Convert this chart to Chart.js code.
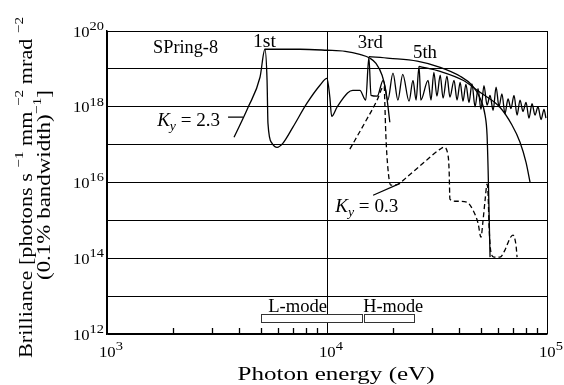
<!DOCTYPE html>
<html>
<head>
<meta charset="utf-8">
<script src="https://cdn.jsdelivr.net/npm/chart.js@4.4.1/dist/chart.umd.min.js"></script>
<style>
html, body { margin: 0; padding: 0; background: #fff; }
#wrap { width: 564px; height: 385px; }
</style>
</head>
<body>
<div id="wrap"><canvas id="brilliance" width="564" height="385"></canvas></div>
<script>
// K_y = 2.3 spectrum (solid)
const k23Energy = [
    3780, 4380, 4960, 5220, 5340, 5390, 5620, 5930, 6310, 7000,
    8110, 9290, 10000, 10300, 10500, 11100, 12400, 13100, 14100, 15000,
    15500, 15850, 16900, 18000, 18900, 19950, 21000, 22100, 23600, 24600,
    25400, 26200, 26700, 28800, 29700, 30600, 31600, 32700, 33700, 35100,
    36200, 37800, 39000, 40300, 41500, 42800, 44200, 45600, 47100, 48600,
    50100, 51700, 53400, 55100, 56900, 58700, 60500, 62400, 64400, 66500,
    68600, 70800, 73100, 75400, 77800, 80300, 82800, 85500, 88200, 91000,
    94000, 96900, 98900,
]
const k23Brilliance = [
    1.57e17, 9.7e17, 6.0e18, 3.3e19, 5.0e18, 3.7e17, 1.1e17, 8.5e16, 1.1e17, 2.9e17,
    1.24e18, 3.7e18, 5.6e18, 1.8e18, 5.6e17, 9.7e17, 2.3e18, 2.7e18, 2.7e18, 1.5e18,
    2.0e19, 2.0e18, 1.9e18, 5.0e18, 1.5e18, 7.7e18, 1.5e18, 7.2e18, 1.4e18, 5.0e18,
    1.5e18, 1.17e19, 1.5e18, 5.0e18, 1.5e18, 8.1e18, 1.9e18, 6.8e18, 1.7e18, 6.4e18,
    1.8e18, 5.0e18, 1.5e18, 4.4e18, 1.4e18, 3.9e18, 1.3e18, 4.0e18, 1.0e18, 3.0e18,
    8.5e17, 3.6e18, 1.1e18, 2.0e18, 8.0e17, 3.3e18, 1.0e18, 2.2e18, 6.5e17, 1.6e18,
    9.0e17, 2.0e18, 6.0e17, 1.5e18, 7.5e17, 1.3e18, 5.0e17, 1.2e18, 6.0e17, 1.0e18,
    4.6e17, 8.5e17, 5.0e17,
]

// tuning curves of the harmonics (solid)
const firstEnergy = [5220, 7540, 10000, 12100, 14100, 15700, 16700, 17800, 18500, 18900, 19300]
const firstBrilliance = [3.3e19, 3.3e19, 3.1e19, 2.9e19, 2.4e19, 1.9e19, 1.4e19, 6.8e18, 2.7e18, 1.1e18, 3.9e17]
const thirdEnergy = [15500, 19300, 25700, 32700, 40300, 45600, 49600, 52300, 53400, 54000, 54500, 55100]
const thirdBrilliance = [2.1e19, 1.9e19, 1.6e19, 1.1e19, 6.4e18, 3.7e18, 1.7e18, 6.0e17, 1.8e17, 2.1e16, 1.86e15, 1.07e14]
const fifthEnergy = [26200, 32700, 41500, 49600, 61100, 69300, 75400, 80300, 83800]
const fifthBrilliance = [1.17e19, 8.6e18, 5.0e18, 2.4e18, 9.7e17, 3.3e17, 1.16e17, 3.4e16, 1.0e16]

// K_y = 0.3 spectrum (dashed)
const k03Energy = [
    12700, 14900, 16900, 17800, 18200, 18300, 18500, 18900, 19500, 21000,
    23100, 27300, 32700, 34000, 35500, 35900, 36200, 39000, 43300, 46100,
    48600, 50100, 51200, 52300, 53400, 54000, 54500, 55600, 57400, 61100,
    64400, 67900, 70000, 72300, 73100,
]
const k03Brilliance = [
    7.6e16, 3.9e17, 1.5e18, 3.1e18, 3.5e18, 1.5e18, 2.0e17, 2.5e16, 8.5e15, 9.0e15,
    1.4e16, 3.2e16, 7.6e16, 8.5e16, 5.2e16, 2.1e16, 3.6e15, 3.2e15, 3.0e15, 1.86e15,
    8.4e14, 3.6e14, 1.0e15, 3.4e15, 9.0e15, 4.6e15, 7.5e14, 1.45e14, 1.07e14, 1.07e14,
    1.64e14, 3.4e14, 4.1e14, 2.2e14, 1.07e14,
]

// operating modes along the energy axis
const modeNames = ['L-mode', 'H-mode']
const modeStart = [5000, 14700]
const modeEnd = [14400, 24800]

// axes
const xMajorTicks = [1e3, 1e4, 1e5]
const xTickExponents = ['3', '4', '5']
const xMinorTicks = [2e3, 3e3, 4e3, 5e3, 6e3, 7e3, 8e3, 9e3, 2e4, 3e4, 4e4, 5e4, 6e4, 7e4, 8e4, 9e4]
const yGridTicks = [1e12, 1e13, 1e14, 1e15, 1e16, 1e17, 1e18, 1e19, 1e20]
const yLabelTicks = [1e12, 1e14, 1e16, 1e18, 1e20]
const yTickExponents = ['12', '14', '16', '18', '20']

const serif = '"Liberation Serif", "Times New Roman", serif'

function toPoints(xs, ys) {
    return xs.map((x, i) => ({x, y: ys[i]}))
}

function partFont(kind, size, supScale) {
    const small = kind === 'sup' || kind === 'sub' || kind === 'isub'
    const italic = kind === 'i' || kind === 'isub'
    const px = small ? Math.round(size * supScale) : size
    return `${italic ? 'italic ' : ''}${px}px ${serif}`
}

function partShift(kind, size) {
    if (kind === 'sup') return -size * 0.45
    if (kind === 'sub' || kind === 'isub') return size * 0.22
    return 0
}

// draws a run of text pieces, stretched to the given width
function drawRich(ctx, parts, x, y, size, width, align, supScale = 0.7) {
    ctx.save()
    let natural = 0
    parts.forEach(([t, k]) => {
        ctx.font = partFont(k, size, supScale)
        natural += ctx.measureText(t).width
    })
    const sx = width ? width / natural : 1
    const w = natural * sx
    const left = align === 'center' ? x - w / 2 : align === 'right' ? x - w : x
    ctx.translate(left, y)
    ctx.scale(sx, 1)
    ctx.fillStyle = '#000'
    ctx.textAlign = 'left'
    ctx.textBaseline = 'alphabetic'
    let cx = 0
    parts.forEach(([t, k]) => {
        ctx.font = partFont(k, size, supScale)
        ctx.fillText(t, cx, partShift(k, size))
        cx += ctx.measureText(t).width
    })
    ctx.restore()
}

const annotations = {
    id: 'annotations',
    afterDraw(chart) {
        const ctx = chart.ctx
        const xs = chart.scales.x
        const ys = chart.scales.y
        const area = chart.chartArea
        const px = v => xs.getPixelForValue(v)
        const py = v => ys.getPixelForValue(v)

        ctx.save()
        ctx.strokeStyle = '#000'

        // inward minor ticks on the energy axis
        ctx.lineWidth = 1.3
        xMinorTicks.forEach(v => {
            const x = Math.round(px(v)) + 0.5
            ctx.beginPath()
            ctx.moveTo(x, area.bottom)
            ctx.lineTo(x, area.bottom - 6)
            ctx.stroke()
        })

        // leaders from the K labels
        ctx.lineWidth = 1.2
        ctx.beginPath()
        ctx.moveTo(px(3550), py(5.3e17))
        ctx.lineTo(px(4150), py(5.3e17))
        ctx.moveTo(px(16200), py(4.6e15))
        ctx.lineTo(px(21500), py(9.5e15))
        ctx.stroke()

        // mode bars
        ctx.lineWidth = 1
        ctx.strokeStyle = '#333'
        modeNames.forEach((name, i) => {
            const x0 = Math.round(px(modeStart[i])) + 0.5
            const x1 = Math.round(px(modeEnd[i])) + 0.5
            const y0 = Math.round(py(3.35e12)) + 0.5
            const y1 = Math.round(py(2.06e12)) + 0.5
            ctx.fillStyle = '#fff'
            ctx.fillRect(x0, y0, x1 - x0, y1 - y0)
            ctx.strokeRect(x0, y0, x1 - x0, y1 - y0)
        })
        ctx.restore()

        drawRich(ctx, [['L-mode', '']], px(5400), py(3.8e12), 18, 59, 'left')
        drawRich(ctx, [['H-mode', '']], px(14600), py(3.8e12), 18, 60, 'left')

        // labels inside the plot
        drawRich(ctx, [['SPring-8', '']], px(1620), py(2.6e19), 18, 65, 'left')
        drawRich(ctx, [['1st', '']], px(4610), py(3.7e19), 18, 23, 'left')
        drawRich(ctx, [['3rd', '']], px(13800), py(3.5e19), 18, 25, 'left')
        drawRich(ctx, [['5th', '']], px(24600), py(1.9e19), 18, 24, 'left')
        drawRich(ctx, [['K', 'i'], ['y', 'isub'], [' = 2.3', '']], px(1690), py(3.05e17), 18, 63, 'left')
        drawRich(ctx, [['K', 'i'], ['y', 'isub'], [' = 0.3', '']], px(10900), py(1.64e15), 18, 63, 'left')

        // tick labels
        yLabelTicks.forEach((v, i) => {
            drawRich(ctx, [['10', ''], [yTickExponents[i], 'sup']], area.left - 3, py(v) + 5.5, 15, 31, 'right', 0.85)
        })
        xMajorTicks.forEach((v, i) => {
            ctx.font = `15px ${serif}`
            const half = ctx.measureText('10').width * 1.07 / 2
            drawRich(ctx, [['10', ''], [xTickExponents[i], 'sup']], px(v) - half, area.bottom + 23, 15, 24, 'left', 0.85)
        })

        // axis titles
        drawRich(ctx, [['Photon energy (eV)', '']], (area.left + area.right) / 2 + 9, 380, 19, 197, 'center')

        ctx.save()
        ctx.translate(32, 187.5)
        ctx.rotate(-Math.PI / 2)
        drawRich(ctx, [
            ['Brilliance [photons s ', ''], ['\u22121', 'sup'],
            [' mm ', ''], ['\u22122', 'sup'],
            [' mrad ', ''], ['\u22122', 'sup'],
        ], 0, 0, 19, 341, 'center')
        ctx.restore()

        ctx.save()
        ctx.translate(50, 185)
        ctx.rotate(-Math.PI / 2)
        drawRich(ctx, [['(0.1% bandwidth)', ''], ['\u22121', 'sup'], [']', '']], 0, 0, 19, 190, 'center')
        ctx.restore()
    },
}

function curve(xs, ys, dashed) {
    return {
        data: toPoints(xs, ys),
        showLine: true,
        borderColor: '#000',
        borderWidth: 1.3,
        borderDash: dashed ? [5, 3] : [],
        pointRadius: 0,
        cubicInterpolationMode: 'monotone',
        fill: false,
    }
}

new Chart(document.getElementById('brilliance').getContext('2d'), {
    type: 'scatter',
    plugins: [annotations],
    data: {
        datasets: [
            curve(k23Energy, k23Brilliance, false),
            curve(firstEnergy, firstBrilliance, false),
            curve(thirdEnergy, thirdBrilliance, false),
            curve(fifthEnergy, fifthBrilliance, false),
            curve(k03Energy, k03Brilliance, true),
        ],
    },
    options: {
        responsive: false,
        animation: false,
        devicePixelRatio: 1,
        layout: {padding: {left: 107, right: 17, top: 31, bottom: 51}},
        plugins: {
            legend: {display: false},
            tooltip: {enabled: false},
        },
        scales: {
            x: {
                type: 'logarithmic',
                min: 1e3,
                max: 1e5,
                afterBuildTicks: scale => { scale.ticks = xMajorTicks.map(value => ({value})) },
                ticks: {display: false},
                grid: {color: '#000', lineWidth: 1, drawTicks: false},
                border: {color: '#000', width: 1.5},
            },
            y: {
                type: 'logarithmic',
                min: 1e12,
                max: 1e20,
                afterBuildTicks: scale => { scale.ticks = yGridTicks.map(value => ({value})) },
                ticks: {display: false},
                grid: {color: '#000', lineWidth: 1, drawTicks: false},
                border: {color: '#000', width: 1.5},
            },
        },
    },
})
</script>
</body>
</html>
